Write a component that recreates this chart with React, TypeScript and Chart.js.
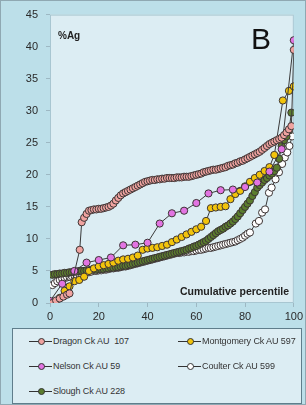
import React, { useEffect, useRef } from "react";
import { Chart, registerables } from "chart.js";

Chart.register(...registerables);

// ---- data ----
const unitPct = [1,2,3,4,5,6,7,8,9,10,11,12,13,14,15,16,17,18,19,20,21,22,23,24,25,26,27,28,29,30,31,32,33,34,35,36,37,38,39,40,41,42,43,44,45,46,47,48,49,50,51,52,53,54,55,56,57,58,59,60,61,62,63,64,65,66,67,68,69,70,71,72,73,74,75,76,77,78,79,80,81,82,83,84,85,86,87,88,89,90,91,92,93,94,95,96,97,98,99];

const dragonPct = [1, 2.5, 4, 5.5, 7, 8, 12.2, 13,14,15,16,17,18,19,20,21,22,23,24,25,26,27,28,29,30,31,32,33,34,35,36,37,38,39,40,41,42,43,44,45,46,47,48,49,50,51,52,53,54,55,56,57,58,59,60,61,62,63,64,65,66,67,68,69,70,71,72,73,74,75,76,77,78,79,80,81,82,83,84,85,86,87,88,89,90,91,92,93,94,95,96,97,98,99, 100];
const dragonAg = [0.0, 0.4, 0.7, 1.0, 1.3, 1.5, 8.3, 12.6, 13.3, 13.9, 14.4, 14.5, 14.6, 14.6, 14.7, 14.7, 14.8, 14.9, 15.0, 15.2, 15.5, 16.0, 16.4, 16.8, 17.1, 17.3, 17.5, 17.7, 17.9, 18.1, 18.3, 18.5, 18.7, 18.9, 19.0, 19.1, 19.2, 19.2, 19.3, 19.3, 19.4, 19.4, 19.5, 19.5, 19.5, 19.5, 19.6, 19.6, 19.6, 19.7, 19.7, 19.7, 19.8, 19.9, 20.0, 20.1, 20.2, 20.4, 20.5, 20.6, 20.7, 20.8, 20.8, 20.9, 21.0, 21.1, 21.2, 21.4, 21.5, 21.6, 21.8, 21.9, 22.1, 22.2, 22.4, 22.6, 22.8, 23.0, 23.2, 23.4, 23.6, 23.9, 24.2, 24.5, 24.8, 25.0, 25.2, 25.4, 25.6, 25.8, 26.2, 26.6, 27.1, 27.6, 39.5];

const nelsonPct = [0,5,10,15,20,25,30,35,40,45,50,55,60,65,70,75,80,85,90,95,100];
const nelsonAg = [0.3, 3.0, 5.0, 6.3, 6.7, 7.1, 9.0, 9.1, 9.4, 12.4, 14.0, 14.4, 15.6, 17.1, 17.6, 17.7, 18.1, 18.8, 20.5, 24.0, 41.0];

const montgomeryPct = [2,4,6,8,10,12,14,16,18,20,22,24,26,28,30,32,34,36,38,40,42,44,46,48,50,52,54,56,58,60,62,64,66,68,70,72,74,76,78,80,82,84,86,88,90,92,95.5,98,100];
const montgomeryAg = [0.1, 0.8, 1.9, 2.6, 3.4, 3.6, 4.1, 5.0, 5.4, 5.7, 5.9, 6.1, 6.3, 6.6, 6.8, 6.9, 7.1, 7.4, 8.3, 8.5, 8.6, 8.7, 8.9, 9.1, 9.5, 9.9, 10.3, 10.7, 11.1, 11.5, 11.9, 12.8, 14.8, 14.9, 15.0, 15.1, 16.2, 17.0, 17.5, 18.2, 18.9, 19.5, 20.0, 20.6, 21.2, 23.1, 31.6, 33.1, 33.8];

const sloughPct = unitPct;
const sloughAg = [4.4, 4.5, 4.5, 4.6, 4.6, 4.7, 4.7, 4.8, 4.8, 4.9, 4.9, 5.0, 5.0, 5.0, 5.1, 5.1, 5.2, 5.2, 5.2, 5.3, 5.3, 5.3, 5.4, 5.4, 5.5, 5.5, 5.6, 5.6, 5.7, 5.8, 5.8, 5.9, 6.0, 6.1, 6.2, 6.3, 6.4, 6.5, 6.6, 6.7, 6.8, 6.9, 7.0, 7.1, 7.2, 7.3, 7.4, 7.5, 7.6, 7.7, 7.8, 7.9, 8.0, 8.1, 8.2, 8.3, 8.5, 8.6, 8.8, 8.9, 9.1, 9.3, 9.5, 9.7, 10.0, 10.3, 10.6, 10.9, 11.2, 11.4, 11.6, 11.9, 12.1, 12.4, 12.7, 13.1, 13.5, 14.0, 14.5, 15.0, 15.5, 16.0, 16.7, 17.3, 18.0, 18.4, 18.8, 19.2, 19.5, 19.9, 20.2, 20.6, 21.1, 22.5, 24.5, 25.4, 26.0, 26.9, 29.7];

const coulterTailPct = [84.4, 85.7, 87, 88.2, 89.8, 90.9, 92.5, 93.9, 95.2, 96.3, 97.3, 98.2, 99.3];
const coulterPct = unitPct.slice(0, 82).concat(coulterTailPct);
const coulterAg = [2.8, 3.1, 3.4, 3.6, 3.8, 3.9, 4.0, 4.1, 4.2, 4.3, 4.4, 4.5, 4.6, 4.7, 4.8, 4.8, 4.9, 5.0, 5.0, 5.1, 5.1, 5.2, 5.2, 5.3, 5.4, 5.4, 5.5, 5.5, 5.6, 5.7, 5.7, 5.8, 5.9, 6.0, 6.1, 6.2, 6.3, 6.4, 6.5, 6.6, 6.7, 6.8, 6.9, 7.0, 7.1, 7.2, 7.3, 7.4, 7.5, 7.6, 7.7, 7.8, 7.8, 7.9, 7.9, 8.0, 8.0, 8.1, 8.1, 8.2, 8.3, 8.3, 8.4, 8.5, 8.6, 8.6, 8.7, 8.8, 8.9, 9.0, 9.1, 9.2, 9.3, 9.4, 9.5, 9.6, 9.8, 10.0, 10.2, 10.5, 10.8, 11.0, 12.4, 12.8, 14.1, 14.6, 17.2, 18.0, 19.3, 20.4, 21.7, 22.7, 23.5, 24.5, 26.0];

const xTicks = [0, 20, 40, 60, 80, 100];
const yTicks = [0, 5, 10, 15, 20, 25, 30, 35, 40, 45];

const seriesNames = ["Dragon Ck AU  107", "Montgomery Ck AU 597", "Nelson Ck AU 59", "Coulter Ck AU 599", "Slough Ck AU 228"];
const seriesColors = { dragon: "#f0a3a0", montgomery: "#f2c40c", nelson: "#e274e2", coulter: "#ffffff", slough: "#5b7d2e" };

const FONT = "'Liberation Sans', Arial, sans-serif";
const OUTER_BG = "#bcdfe9";
const PLOT_BG = "#dcedf3";

function pts(xs: number[], ys: number[]) {
  return xs.map((x, i) => ({ x, y: ys[i] }));
}

function ds(label: string, xs: number[], ys: number[], color: string) {
  return {
    label,
    data: pts(xs, ys),
    showLine: true,
    borderColor: "#3a3a3a",
    borderWidth: 1,
    pointRadius: 3.6,
    pointBackgroundColor: color,
    pointBorderColor: "#3d3535",
    pointBorderWidth: 1,
  };
}

const plotBg = {
  id: "plotBg",
  beforeDraw(chart: any) {
    const { ctx, chartArea } = chart;
    ctx.save();
    ctx.fillStyle = PLOT_BG;
    ctx.fillRect(chartArea.left, chartArea.top, chartArea.right - chartArea.left, chartArea.bottom - chartArea.top);
    ctx.strokeStyle = "#a8c6d1";
    ctx.lineWidth = 1;
    ctx.strokeRect(chartArea.left + 0.5, chartArea.top + 0.5, chartArea.right - chartArea.left - 1, chartArea.bottom - chartArea.top - 1);
    ctx.restore();
  },
};

function LegendItem({ left, top, color, text }: { left: number; top: number; color: string; text: string }) {
  return (
    <div style={{ position: "absolute", left, top, height: 14, display: "flex", alignItems: "center" }}>
      <div style={{ position: "relative", width: 23, height: 14 }}>
        <div style={{ position: "absolute", left: 0, top: 6.5, width: 23, height: 1.2, background: "#333" }} />
        <div style={{ position: "absolute", left: 8.5, top: 4, width: 5, height: 5, borderRadius: "50%", background: color, border: "1px solid #333" }} />
      </div>
      <span style={{ fontSize: 9, color: "#333", marginLeft: 1, whiteSpace: "pre", letterSpacing: "-0.1px" }}>{text}</span>
    </div>
  );
}

export default function App() {
  const ref = useRef<HTMLCanvasElement | null>(null);
  useEffect(() => {
    if (!ref.current) return;
    const chart = new Chart(ref.current, {
      type: "scatter",
      data: {
        datasets: [
          ds(seriesNames[0], dragonPct, dragonAg, seriesColors.dragon),
          ds(seriesNames[2], nelsonPct, nelsonAg, seriesColors.nelson),
          ds(seriesNames[1], montgomeryPct, montgomeryAg, seriesColors.montgomery),
          ds(seriesNames[4], sloughPct, sloughAg, seriesColors.slough),
          ds(seriesNames[3], coulterPct, coulterAg, seriesColors.coulter),
        ],
      },
      options: {
        animation: false,
        responsive: false,
        layout: { padding: { left: 0, top: 14, right: 11, bottom: 0 } },
        plugins: { legend: { display: false }, tooltip: { enabled: false } },
        scales: {
          x: {
            type: "linear",
            min: 0,
            max: 100,
            afterBuildTicks: (s: any) => { s.ticks = xTicks.map((v) => ({ value: v })); },
            afterFit: (s: any) => { s.height = 22; },
            ticks: { color: "#2a2a2a", font: { family: FONT, size: 11 }, padding: 3, maxRotation: 0 },
            grid: { drawOnChartArea: false, drawTicks: true, tickLength: 4, tickColor: "#9db8c3" },
            border: { display: false },
          },
          y: {
            type: "linear",
            min: 0,
            max: 45,
            afterBuildTicks: (s: any) => { s.ticks = yTicks.map((v) => ({ value: v })); },
            afterFit: (s: any) => { s.width = 50; },
            ticks: { color: "#2a2a2a", font: { family: FONT, size: 11 }, padding: 8 },
            grid: { drawOnChartArea: false, drawTicks: true, tickLength: 4, tickColor: "#9db8c3" },
            border: { display: false },
          },
        },
      },
      plugins: [plotBg],
    } as any);
    return () => chart.destroy();
  }, []);

  return (
    <div style={{ position: "fixed", left: 0, top: 0, width: 306, height: 405, background: OUTER_BG, fontFamily: FONT, overflow: "hidden" }}>
      <canvas ref={ref} width={306} height={325} style={{ position: "absolute", left: 0, top: 0, width: 306, height: 325 }} />
      <div style={{ position: "absolute", left: 58, top: 31, fontSize: 10, fontWeight: "bold", color: "#222", lineHeight: "10px" }}>%Ag</div>
      <div style={{ position: "absolute", left: 251, top: 24, fontSize: 30, color: "#111", lineHeight: "30px" }}>B</div>
      <div style={{ position: "absolute", left: 180, top: 286, fontSize: 10.5, fontWeight: "bold", color: "#222", lineHeight: "10.5px", whiteSpace: "nowrap" }}>Cumulative percentile</div>
      <div style={{ position: "absolute", left: 12, top: 328, width: 290, height: 76, boxSizing: "border-box", background: PLOT_BG, border: "1.5px solid #5f7d8b" }} />
      <LegendItem left={29} top={334} color={seriesColors.dragon} text={seriesNames[0]} />
      <LegendItem left={178} top={334} color={seriesColors.montgomery} text={seriesNames[1]} />
      <LegendItem left={29} top={359} color={seriesColors.nelson} text={seriesNames[2]} />
      <LegendItem left={178} top={359} color={seriesColors.coulter} text={seriesNames[3]} />
      <LegendItem left={29} top={384} color={seriesColors.slough} text={seriesNames[4]} />
      <div style={{ position: "absolute", left: 0, top: 0, width: 306, height: 405, boxSizing: "border-box", border: "1px solid #8fa8b2", pointerEvents: "none" }} />
    </div>
  );
}
